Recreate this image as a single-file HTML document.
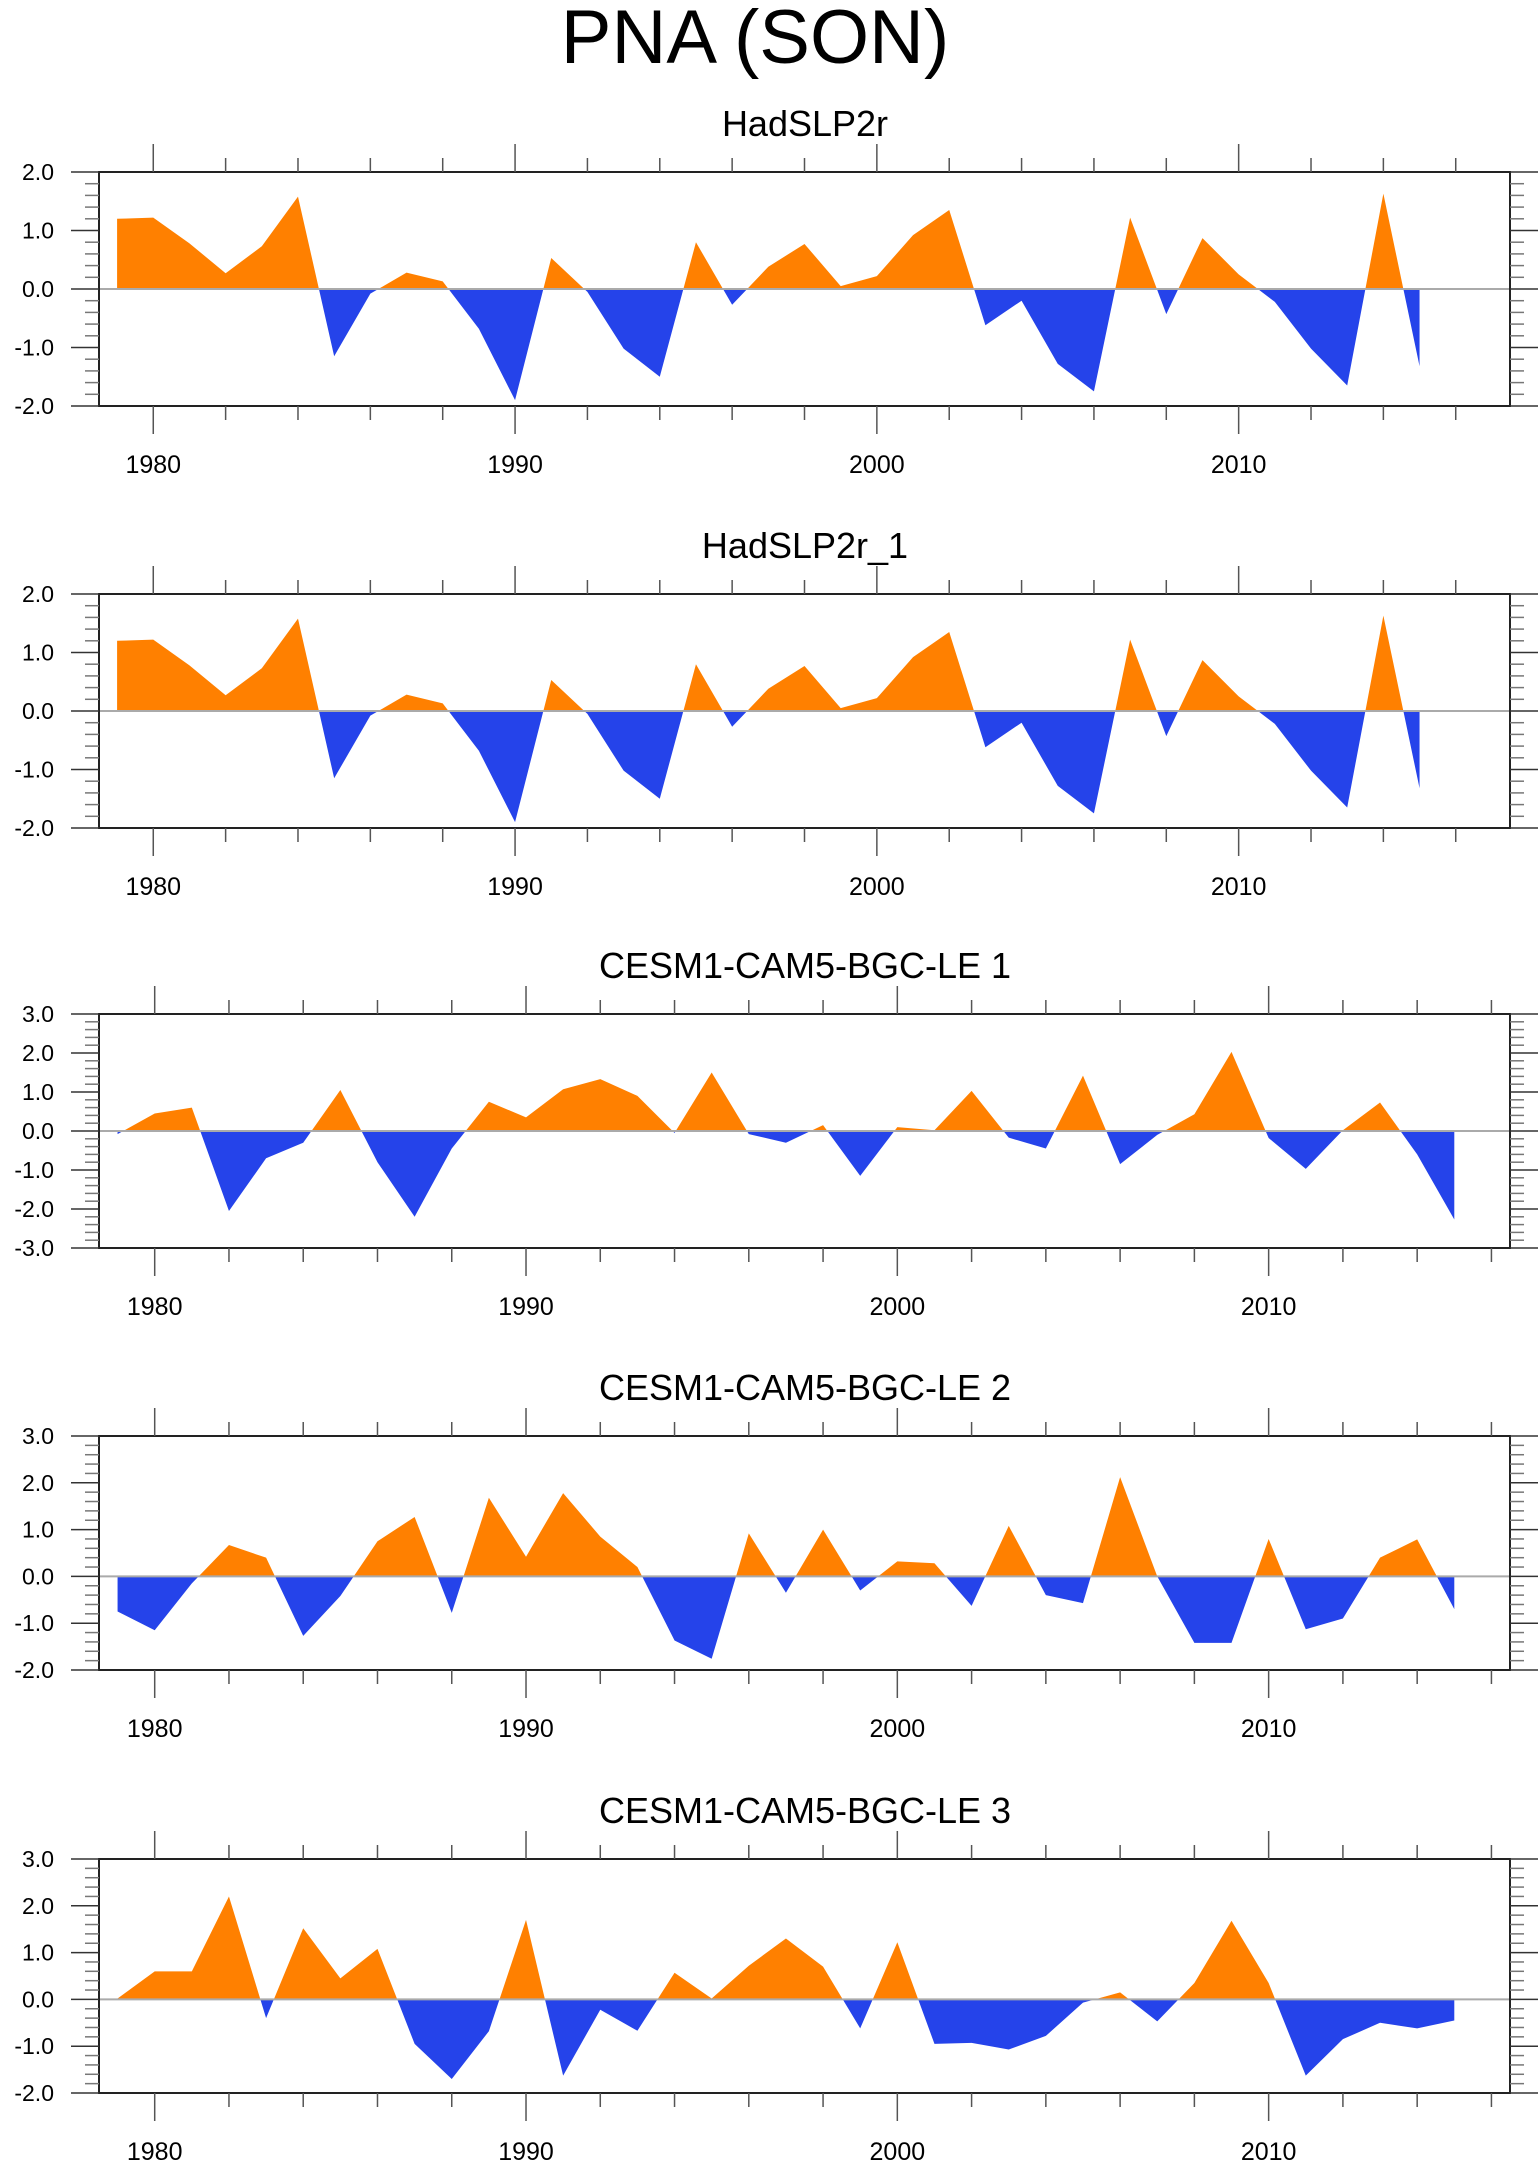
<!DOCTYPE html>
<html><head><meta charset="utf-8"><style>
html,body{margin:0;padding:0;background:#fff;}
svg{display:block;font-family:"Liberation Sans",sans-serif;}
</style></head><body>
<svg id="chart" width="1540" height="2166" viewBox="0 0 1540 2166">
<text x="755" y="63" font-size="76" text-anchor="middle">PNA (SON)</text>
</svg>
<script>
const years = [1979,1980,1981,1982,1983,1984,1985,1986,1987,1988,1989,1990,1991,1992,1993,1994,1995,1996,1997,1998,1999,2000,2001,2002,2003,2004,2005,2006,2007,2008,2009,2010,2011,2012,2013,2014,2015];
const panelTitles = ["HadSLP2r","HadSLP2r_1","CESM1-CAM5-BGC-LE 1","CESM1-CAM5-BGC-LE 2","CESM1-CAM5-BGC-LE 3"];
const hadslp = [1.2,1.22,0.78,0.27,0.73,1.58,-1.15,-0.08,0.28,0.13,-0.68,-1.9,0.53,-0.05,-1.02,-1.5,0.8,-0.27,0.38,0.77,0.05,0.22,0.92,1.35,-0.62,-0.2,-1.28,-1.75,1.22,-0.43,0.87,0.25,-0.22,-1.02,-1.65,1.63,-1.32];
const hadslp1 = [1.2,1.22,0.78,0.27,0.73,1.58,-1.15,-0.08,0.28,0.13,-0.68,-1.9,0.53,-0.05,-1.02,-1.5,0.8,-0.27,0.38,0.77,0.05,0.22,0.92,1.35,-0.62,-0.2,-1.28,-1.75,1.22,-0.43,0.87,0.25,-0.22,-1.02,-1.65,1.63,-1.32];
const le1 = [-0.08,0.45,0.6,-2.05,-0.7,-0.3,1.05,-0.8,-2.2,-0.45,0.75,0.35,1.07,1.33,0.9,-0.05,1.5,-0.08,-0.3,0.15,-1.15,0.1,0.02,1.03,-0.17,-0.45,1.42,-0.85,-0.1,0.43,2.03,-0.18,-0.97,0.02,0.73,-0.6,-2.27];
const le2 = [-0.75,-1.15,-0.15,0.67,0.4,-1.27,-0.42,0.75,1.27,-0.78,1.68,0.42,1.78,0.85,0.2,-1.37,-1.76,0.92,-0.35,1.0,-0.3,0.32,0.28,-0.63,1.08,-0.4,-0.57,2.12,0.0,-1.42,-1.42,0.8,-1.13,-0.9,0.4,0.79,-0.7];
const le3 = [0.02,0.6,0.6,2.2,-0.4,1.52,0.45,1.08,-0.95,-1.7,-0.68,1.7,-1.63,-0.22,-0.67,0.57,0.02,0.72,1.3,0.7,-0.62,1.22,-0.95,-0.93,-1.07,-0.78,-0.07,0.15,-0.47,0.35,1.68,0.35,-1.63,-0.85,-0.5,-0.62,-0.45];
const seriesList = [hadslp,hadslp1,le1,le2,le3];
const yMins = [-2,-2,-3,-2,-2];
const yMaxs = [2,2,3,3,3];
const xMaxs = [2017.5,2017.5,2016.5,2016.5,2016.5];
const xMin = 1978.5;
const xTickLabels = [1980,1990,2000,2010];

const NS="http://www.w3.org/2000/svg";
const svg=document.getElementById('chart');
function mk(tag,attrs,parent){const e=document.createElementNS(NS,tag);for(const k in attrs)e.setAttribute(k,attrs[k]);(parent||svg).appendChild(e);return e;}
const tops=[172,594,1014,1436,1859];
const L=99,R=1510,H=234;

seriesList.forEach((vals,p)=>{
  const top=tops[p],bot=top+H;
  const g=mk('g',{});
  
  
  const xs=yr=>L+(yr-xMin)/(xMaxs[p]-xMin)*(R-L);
  const ys=v=>bot-(v-yMins[p])/(yMaxs[p]-yMins[p])*H;
  const t=mk('text',{x:805,y:top-36,'font-size':36,'text-anchor':'middle'},g);
  t.textContent=panelTitles[p];
  
  
  const y0=ys(0);
  const cidA='ca'+p,cidB='cb'+p;
  const defs=mk('defs',{},g);
  const c1=mk('clipPath',{id:cidA},defs);mk('rect',{x:L,y:top,width:R-L,height:y0-top},c1);
  const c2=mk('clipPath',{id:cidB},defs);mk('rect',{x:L,y:y0,width:R-L,height:bot-y0},c2);
  let d='M'+xs(years[0])+','+y0;
  years.forEach((yr,i)=>{d+=' L'+xs(yr).toFixed(2)+','+ys(vals[i]).toFixed(2);});
  d+=' L'+xs(years[years.length-1])+','+y0+' Z';
  const pa=mk('path',{d:d,fill:'#FF8000','clip-path':'url(#'+cidA+')'},g);
  
  
  const pb=mk('path',{d:d,fill:'#2543EA','clip-path':'url(#'+cidB+')'},g);
  
  
  const zl=mk('line',{x1:L,x2:R,y1:y0,y2:y0,stroke:'#aaa','stroke-width':2},g);
  
  
  const fr=mk('rect',{x:L,y:top,width:R-L,height:H,fill:'none',stroke:'#222','stroke-width':2},g);
  
  
  for(let yr=1980;yr<=xMaxs[p];yr+=2){
    const x=xs(yr),maj=(yr%10===0),len=maj?28:14;
    mk('line',{x1:x,x2:x,y1:top-len,y2:top,stroke:'#555','stroke-width':1.5},g);
    mk('line',{x1:x,x2:x,y1:bot,y2:bot+len,stroke:'#555','stroke-width':1.5},g);
  }
  xTickLabels.forEach(yr=>{
    const tl=mk('text',{x:xs(yr),y:bot+67,'font-size':25,'text-anchor':'middle'},g);
    tl.textContent=yr;
    
    
  });
  for(let k=Math.round(yMins[p]*5);k<=Math.round(yMaxs[p]*5);k++){
    const v=k/5,y=ys(v),maj=(k%5===0),len=maj?28:14;
    mk('line',{x1:L-len,x2:L,y1:y,y2:y,stroke:maj?'#333':'#777','stroke-width':1.5},g);
    mk('line',{x1:R,x2:R+len,y1:y,y2:y,stroke:maj?'#333':'#777','stroke-width':1.5},g);
    if(maj){
      const yl=mk('text',{x:54,y:y+8,'font-size':23,'text-anchor':'end'},g);
      yl.textContent=v.toFixed(1);
      
      
    }
  }
});
</script>
</body></html>
